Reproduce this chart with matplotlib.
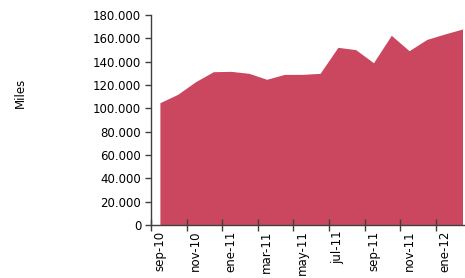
import numpy as np
import matplotlib
matplotlib.use('Agg')
import matplotlib.pyplot as plt
from matplotlib.ticker import FuncFormatter, FixedLocator

# meses (sep-10 a feb-12)
months = ['sep-10', 'oct-10', 'nov-10', 'dic-10', 'ene-11', 'feb-11', 'mar-11',
          'abr-11', 'may-11', 'jun-11', 'jul-11', 'ago-11', 'sep-11', 'oct-11',
          'nov-11', 'dic-11', 'ene-12', 'feb-12']

# valores (miles)
values = [104800, 112000, 122800, 131400, 131700, 130000, 124900, 129100,
          129100, 130000, 152300, 150300, 139100, 162600, 149400, 159100,
          163700, 168000]

y_ticks = np.arange(0, 180001, 20000)

plt.rcParams['font.family'] = ['DejaVu Sans']

fig = plt.figure(figsize=(4.65, 2.78), dpi=100)
# el area de trazado se sale un poco por la derecha, como en el original
ax = fig.add_axes([151 / 465, 53 / 278, 320.4 / 465, 210 / 278])

x = np.arange(len(months))
ax.fill_between(x, 0, values, color='#cb4760', linewidth=0)

ax.set_xlim(-0.5, len(months) - 0.5)
ax.set_ylim(0, 180000)

# etiquetas cada 2 meses, marcas entre categorias
ax.set_xticks(x[::2])
ax.set_xticklabels(months[::2], rotation=90, fontsize=8.5)
ax.xaxis.set_minor_locator(FixedLocator(np.arange(-0.5, len(months), 2)))
ax.tick_params(axis='x', which='major', length=0, pad=4)
ax.tick_params(axis='x', which='minor', direction='inout', length=9, width=1, color='#404040')

ax.set_yticks(y_ticks)
ax.yaxis.set_major_formatter(FuncFormatter(lambda v, p: f'{v:,.0f}'.replace(',', '.')))
ax.tick_params(axis='y', direction='out', length=4, width=1, color='#404040', labelsize=8.5, pad=3)

fig.text(20 / 465, 1 - 93 / 278, 'Miles', rotation=90, fontsize=8.5, ha='center', va='center')

for s in ['top', 'right']:
    ax.spines[s].set_visible(False)
for s in ['left', 'bottom']:
    ax.spines[s].set_color('#404040')
    ax.spines[s].set_linewidth(1)

plt.savefig('out.png', dpi=100)
plt.close()
